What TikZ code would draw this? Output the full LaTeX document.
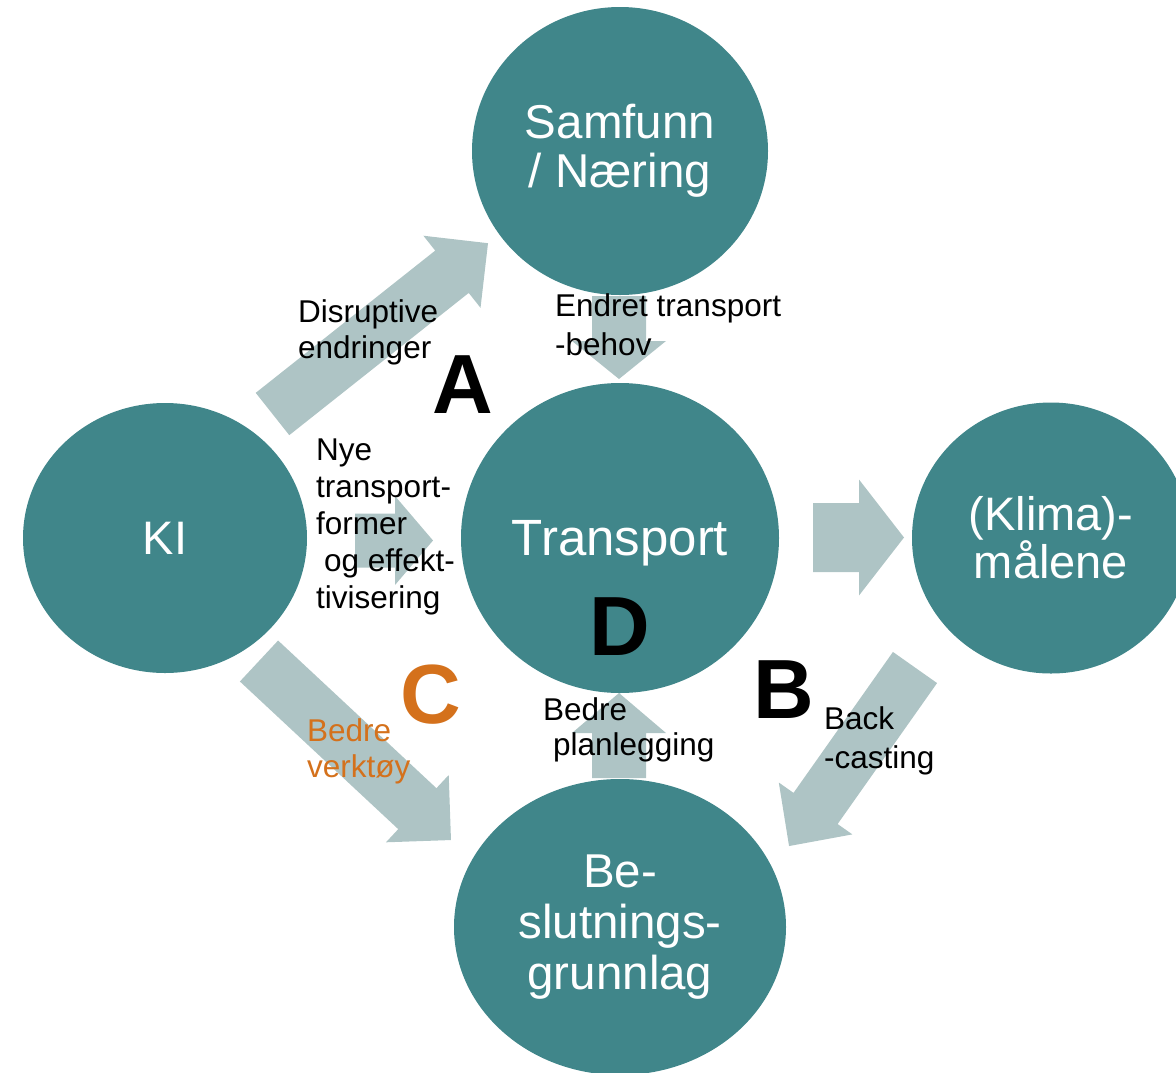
\documentclass[tikz,border=0pt]{standalone}
\usepackage{fontspec}
\setmainfont{Liberation Sans}
\usetikzlibrary{shapes.geometric}

\definecolor{hubteal}{RGB}{64,134,138}
\definecolor{flowgrey}{RGB}{174,196,197}
\definecolor{toolorange}{RGB}{212,113,28}

% Block arrow: #1 tail centre, #2 direction (deg), #3 total length,
% #4 half shaft width, #5 half head width, #6 head length
\newcommand\blockarrow[6]{%
  \fill[flowgrey, shift={#1}, rotate=#2]
    (0,-#4) -- ({#3-#6},-#4) -- ({#3-#6},-#5) -- (#3,0)
    -- ({#3-#6},#5) -- ({#3-#6},#4) -- (0,#4) -- cycle;}

\begin{document}
\begin{tikzpicture}[x=1pt,y=-1pt,
  hub/.style={ellipse, fill=hubteal, text=white, inner sep=0pt, align=center},
  % labels are placed by the baseline of their last line
  tag/.style={anchor=base west, align=left, inner sep=0pt,
              font=\fontsize{31.5}{37}\selectfont},
  letter/.style={inner sep=0pt, font=\fontsize{84}{84}\selectfont\bfseries}]
\useasboundingbox (0,0) rectangle (1176,1072);

% flow arrows (behind the hubs)
\blockarrow{(272.5,414)}{38.4}{275}{27}{46}{46}
\blockarrow{(355,540.5)}{0}{78}{27}{44.5}{38}
\blockarrow{(619,296)}{-90}{83}{27}{47}{38}
\blockarrow{(813,537.5)}{0}{91}{34.5}{58}{45}
\blockarrow{(259,661)}{-43}{262.5}{28}{46}{46}
\blockarrow{(619,778)}{90}{85}{27}{47}{40}
\blockarrow{(915,667.5)}{-125.2}{218.5}{27}{45}{46}

% hubs
\node[hub, minimum width=296, minimum height=288, font=\fontsize{47.5}{49}\selectfont]
  (soc) at (620,151) {Samfunn\\/ Næring};
\node[hub, minimum width=318, minimum height=310, font=\fontsize{51}{52}\selectfont,
      text depth=0pt]
  (tra) at (620,538) {Transport};
\node[hub, minimum width=284, minimum height=270, font=\fontsize{47}{48}\selectfont]
  (ki) at (165,538) {KI};
\node[hub, minimum width=278, minimum height=271, font=\fontsize{47}{48}\selectfont]
  (kli) at (1051,538) {(Klima)-\\målene};
\node[hub, minimum width=332, minimum height=296, font=\fontsize{47.5}{51}\selectfont]
  (bes) at (620,927) {Be-\\slutnings-\\grunnlag};

% arrow labels
\node[tag, font=\fontsize{31.5}{36}\selectfont] (dis) at (298,358) {Disruptive\\endringer};
\node[tag] (nye) at (316,608) {Nye\\transport-\\former\\\hspace*{8pt}og effekt-\\tivisering};
\node[tag, font=\fontsize{31.5}{39}\selectfont] (endr) at (555,355) {Endret transport\\-behov};
\node[tag, font=\fontsize{31.5}{35}\selectfont] (plan) at (543,755) {Bedre\\\hspace*{10pt}planlegging};
\node[tag, font=\fontsize{31.5}{39}\selectfont] (back) at (824,768) {Back\\-casting};
\node[tag, text=toolorange, font=\fontsize{31.5}{36}\selectfont] (verk) at (307,777) {Bedre\\verktøy};

% area letters
\node[letter] (la) at (463,385) {A};
\node[letter] (lb) at (784,690) {B};
\node[letter, text=toolorange] (lc) at (431,695) {C};
\node[letter] (ld) at (620,627) {D};
\end{tikzpicture}
\end{document}
